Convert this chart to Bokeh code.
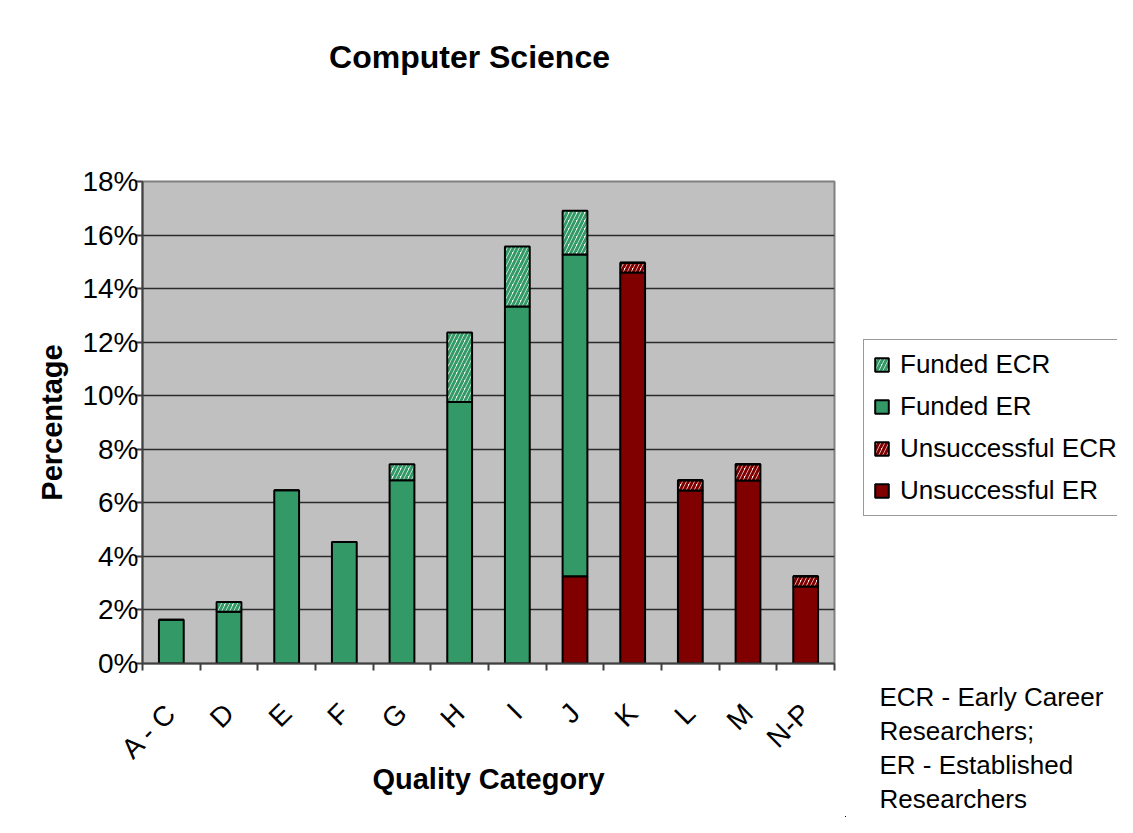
from bokeh.plotting import figure
from bokeh.layouts import column, row
from bokeh.models import (ColumnDataSource, Range1d, FixedTicker, PrintfTickFormatter,
                          CustomJSTickFormatter, Legend, LegendItem, Label)
from bokeh.embed import file_html
from bokeh.resources import INLINE

# ---- data (percent) ----
categories = ["A - C", "D", "E", "F", "G", "H", "I", "J", "K", "L", "M", "N-P"]
funded_ecr = [0, 0.37, 0, 0, 0.60, 2.59, 2.24, 1.64, 0, 0, 0, 0]
funded_er = [1.63, 1.93, 6.47, 4.54, 6.84, 9.77, 13.33, 12.01, 0, 0, 0, 0]
unsucc_ecr = [0, 0, 0, 0, 0, 0, 0, 0, 0.37, 0.38, 0.61, 0.38]
unsucc_er = [0, 0, 0, 0, 0, 0, 0, 3.26, 14.60, 6.46, 6.83, 2.88]
y_ticks = [0, 2, 4, 6, 8, 10, 12, 14, 16, 18]
series_names = ["Unsuccessful ER", "Unsuccessful ECR", "Funded ER", "Funded ECR"]
note_lines = ["ECR - Early Career", "Researchers;", "ER - Established", "Researchers"]

GREEN = "#339966"
MAROON = "#800000"
FONT = "Liberation Sans"
fills = [MAROON, "white", GREEN, "white"]
hatches = [" ", "/", " ", "/"]
hcolors = [MAROON, MAROON, GREEN, GREEN]
HS, HW = 8, 3
stackers = ["unsucc_er", "unsucc_ecr", "funded_er", "funded_ecr"]

xpos = [i + 0.5 for i in range(len(categories))]
src = ColumnDataSource(dict(x=xpos, cat=categories, funded_ecr=funded_ecr, funded_er=funded_er,
                            unsucc_ecr=unsucc_ecr, unsucc_er=unsucc_er))


def blank_fig(w, h, **kw):
    f = figure(width=w, height=h, output_backend="svg", toolbar_location=None,
               x_axis_type=None, y_axis_type=None,
               min_border_left=0, min_border_right=0, min_border_top=0, min_border_bottom=0, **kw)
    f.outline_line_color = None
    f.background_fill_color = "white"
    f.border_fill_color = "white"
    f.grid.visible = False
    f.frame_align = False
    return f


# ---- title strip ----
tf = blank_fig(1117, 100)
tf.add_layout(Label(x=469, y=44, x_units="screen", y_units="screen", text="Computer Science",
                    text_align="center", text_baseline="middle", text_font=FONT,
                    text_font_size="32px", text_font_style="bold", text_color="black"))

# ---- main chart ----
p = figure(width=845, height=717, x_range=Range1d(0, len(categories)), y_range=Range1d(0, 18),
           output_backend="svg", toolbar_location=None,
           min_border_left=142, min_border_right=11, min_border_top=81, min_border_bottom=154)
p.frame_align = False
p.background_fill_color = "#C0C0C0"
p.border_fill_color = "white"
p.outline_line_color = "#808080"
p.outline_line_width = 2

rs = p.vbar_stack(stackers, x="x", width=0.43, source=src,
                  fill_color=fills, hatch_pattern=hatches, hatch_color=hcolors,
                  hatch_scale=[HS] * 4, hatch_weight=[HW] * 4,
                  line_color="black", line_width=2)

p.xgrid.visible = False
p.ygrid.grid_line_color = "#2b2b2b"
p.ygrid.grid_line_width = 1.5
p.ygrid.ticker = FixedTicker(ticks=y_ticks)

p.yaxis.ticker = FixedTicker(ticks=y_ticks)
p.yaxis.formatter = PrintfTickFormatter(format="%d%%")
p.yaxis.axis_label = "Percentage"
p.xaxis.ticker = FixedTicker(ticks=xpos, minor_ticks=list(range(len(categories) + 1)))
p.xaxis.formatter = CustomJSTickFormatter(args=dict(cats=categories),
                                          code="return cats[Math.floor(tick)];")
p.xaxis.axis_label = "Quality Category"
p.xaxis.major_label_orientation = 0.785398
p.xaxis.major_tick_line_color = None
p.xaxis.minor_tick_line_color = "#404040"
p.xaxis.minor_tick_line_width = 2
p.xaxis.minor_tick_in = 0
p.xaxis.minor_tick_out = 7
p.xaxis.major_label_standoff = 38
p.yaxis.minor_tick_line_color = None
p.yaxis.major_tick_in = 0
p.yaxis.major_tick_out = 7
p.yaxis.major_tick_line_width = 2
p.yaxis.major_tick_line_color = "#404040"
p.yaxis.major_label_standoff = -3

for ax in (p.xaxis[0], p.yaxis[0]):
    ax.axis_line_color = "#404040"
    ax.axis_line_width = 2
    ax.major_label_text_font = FONT
    ax.major_label_text_font_size = "28px"
    ax.major_label_text_color = "black"
    ax.axis_label_text_font = FONT
    ax.axis_label_text_font_size = "29px"
    ax.axis_label_text_font_style = "bold"
    ax.axis_label_text_color = "black"
p.yaxis.axis_label_standoff = 11
p.xaxis.axis_label_standoff = -16

# ---- right strip: legend and note ----
rf = blank_fig(272, 717, x_range=Range1d(100, 101), y_range=Range1d(100, 101))
lr = rf.vbar_stack(stackers, x="x", width=0.43, source=src,
                   fill_color=fills, hatch_pattern=hatches, hatch_color=hcolors,
                   hatch_scale=[HS] * 4, hatch_weight=[HW] * 4,
                   line_color="black", line_width=2)
legend = Legend(items=[LegendItem(label=series_names[k], renderers=[lr[k]]) for k in (3, 2, 1, 0)],
                location=(18, 301), orientation="vertical",
                glyph_width=17, glyph_height=17, label_height=30, label_width=262,
                label_text_font=FONT, label_text_font_size="26px", label_text_color="black",
                label_standoff=10, spacing=11, padding=9, margin=0,
                border_line_color="#333333", border_line_width=1,
                background_fill_color="white", background_fill_alpha=1)
rf.add_layout(legend, "center")
for k, line in enumerate(note_lines):
    rf.add_layout(Label(x=34, y=121 - 34.3 * k, x_units="screen", y_units="screen", text=line,
                        text_align="left", text_baseline="middle", text_font=FONT,
                        text_font_size="26px", text_color="black"))

page = column(tf, row(p, rf, spacing=0), spacing=0)

open("out.html", "w").write(file_html(page, INLINE))
